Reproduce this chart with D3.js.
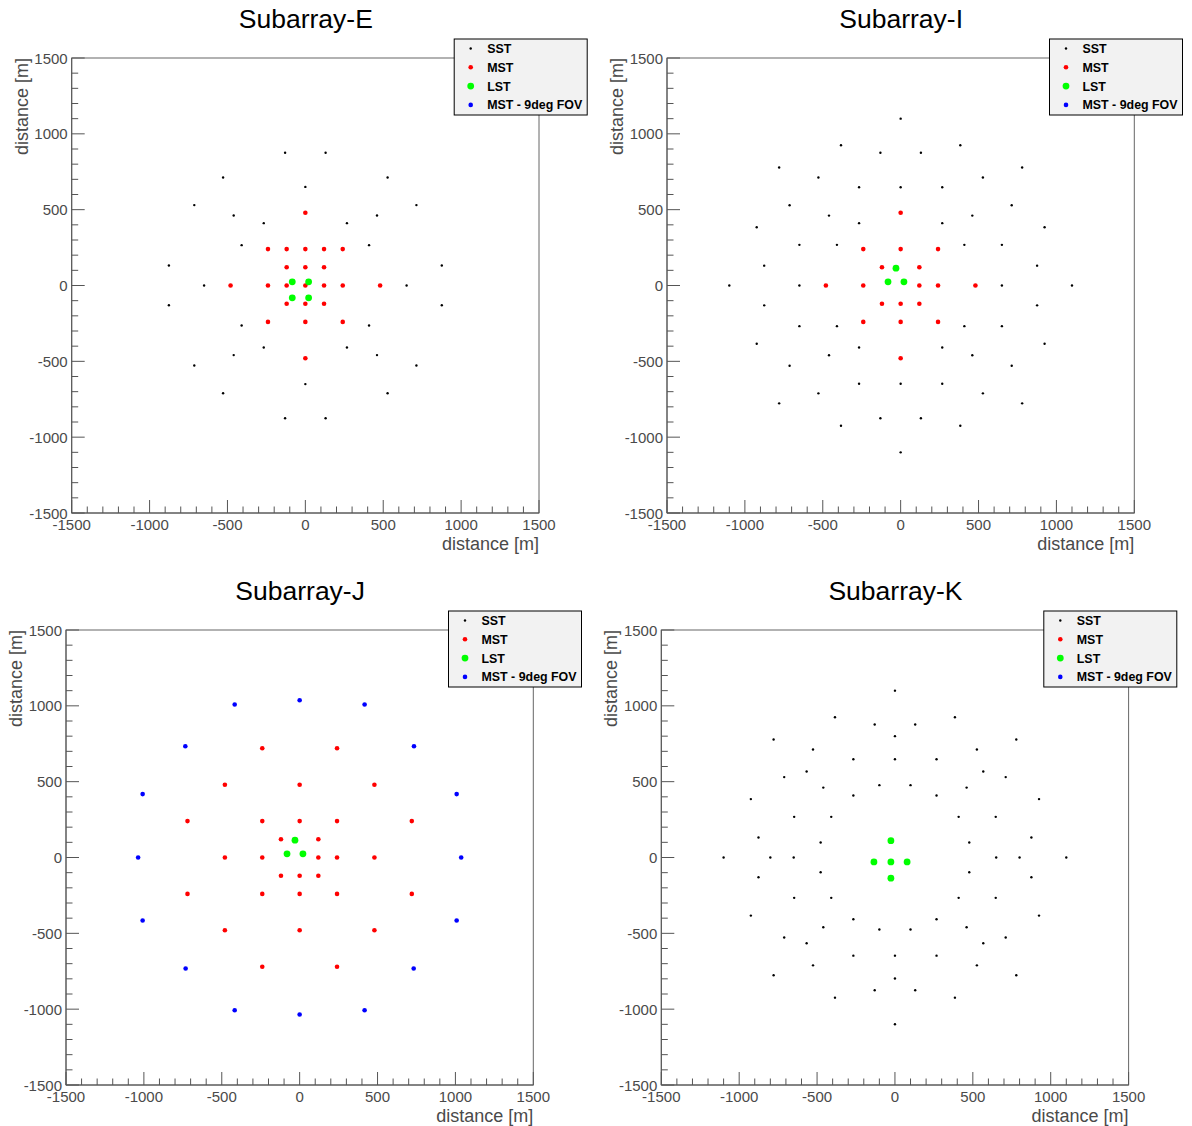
<!DOCTYPE html>
<html>
<head>
<meta charset="utf-8">
<script src="https://cdn.jsdelivr.net/npm/d3@7/dist/d3.min.js"></script>
<style>
  html, body { margin: 0; padding: 0; background: #fff; }
  svg { display: block; }
  text { font-family: "Liberation Sans", Arial, Helvetica, sans-serif; }
</style>
</head>
<body>
<div id="chart"></div>
<script>
// ---------------- DATA ----------------
const axisTicks = [-1500, -1000, -500, 0, 500, 1000, 1500];
const legendLabels = ["SST", "MST", "LST", "MST - 9deg FOV"];
const panelTitles = ["Subarray-E", "Subarray-I", "Subarray-J", "Subarray-K"];

const sstE = [
  [-130,875],[130,875],[-528,712],[528,712],[0,650],[-713,530],[713,530],
  [-460,462],[460,462],[-267,411],[267,411],[-409,266],[409,266],
  [-876,132],[876,132],[-650,0],[650,0],[-876,-130],[876,-130],
  [-409,-264],[409,-264],[-267,-409],[267,-409],[-460,-459],[460,-459],
  [-713,-527],[713,-527],[-528,-710],[528,-710],[0,-650],[-130,-875],[130,-875]
];
const mstE = [
  [0,480],
  [-240,240],[-120,240],[0,240],[120,240],[240,240],
  [-120,120],[0,120],[120,120],
  [-480,0],[-240,0],[-120,0],[0,0],[120,0],[240,0],[480,0],
  [-120,-120],[0,-120],[120,-120],
  [-240,-240],[0,-240],[240,-240],
  [0,-480]
];
const lstE = [[-84,24],[21,24],[-84,-81],[21,-81]];
const mst9E = [];

const sstI = [
  [0,1100],[-383,925],[383,925],[-130,875],[130,875],[-780,778],[780,778],
  [-528,712],[528,712],[-267,648],[0,648],[267,648],[-713,529],[713,529],
  [-460,461],[460,461],[-267,411],[267,411],[-924,384],[924,384],
  [-650,268],[-409,268],[409,268],[650,268],[-876,131],[876,131],
  [-1100,0],[-650,0],[650,0],[1100,0],[-876,-131],[876,-131],
  [-650,-268],[-409,-268],[409,-268],[650,-268],[-924,-384],[924,-384],
  [-267,-409],[267,-409],[-460,-460],[460,-460],[-713,-529],[713,-529],
  [-267,-648],[0,-648],[267,-648],[-528,-711],[528,-711],[-780,-777],[780,-777],
  [-130,-875],[130,-875],[-383,-925],[383,-925],[0,-1100]
];
const mstI = [
  [0,480],
  [-240,240],[0,240],[240,240],
  [-120,120],[120,120],
  [-480,0],[-240,0],[120,0],[240,0],[480,0],
  [-120,-120],[0,-120],[120,-120],
  [-240,-240],[0,-240],[240,-240],
  [0,-480]
];
const lstI = [[-30,114],[-81,24],[21,24]];
const mst9I = [];

const sstJ = [];
const mstJ = [
  [-240,720],[240,720],
  [-480,480],[0,480],[480,480],
  [-720,240],[-240,240],[0,240],[240,240],[720,240],
  [-120,120],[120,120],
  [-480,0],[-240,0],[120,0],[240,0],[480,0],
  [-120,-120],[0,-120],[120,-120],
  [-720,-240],[-240,-240],[0,-240],[240,-240],[720,-240],
  [-480,-480],[0,-480],[480,-480],
  [-240,-720],[240,-720]
];
const lstJ = [[-30,114],[-81,24],[21,24]];
const mst9J = [
  [0,1037],[-417,1009],[417,1009],[-734,734],[734,734],[-1008,418],[1008,418],
  [-1037,0],[1037,0],[-1008,-415],[1008,-415],[-732,-732],[732,-732],
  [-417,-1007],[417,-1007],[0,-1035]
];

const sstK = [
  [0,1100],[-385,925],[385,925],[-130,877],[130,877],[0,800],
  [-779,778],[779,778],[-526,712],[526,712],[-267,648],[0,648],[267,648],
  [-567,567],[567,567],[-711,530],[711,530],[-100,477],[100,477],
  [-460,461],[460,461],[-267,409],[267,409],[-925,385],[925,385],
  [-647,268],[-409,268],[409,268],[647,268],[-876,132],[876,132],
  [-477,99],[477,99],
  [-1100,0],[-800,0],[-650,0],[650,0],[800,0],[1100,0],
  [-477,-97],[477,-97],[-876,-130],[876,-130],
  [-647,-266],[-409,-266],[409,-266],[647,-266],[-925,-383],[925,-383],
  [-267,-407],[267,-407],[-460,-460],[460,-460],[-100,-475],[100,-475],
  [-711,-527],[711,-527],[-567,-565],[567,-565],
  [-267,-647],[0,-647],[267,-647],[-526,-711],[526,-711],
  [-779,-776],[779,-776],[0,-798],[-130,-875],[130,-875],
  [-385,-924],[385,-924],[0,-1099]
];
const mstK = [];
const lstK = [[-26,111],[-135,-29],[-26,-29],[78,-29],[-26,-136]];
const mst9K = [];

// ---------------- LAYOUT ----------------
const W = 1192, H = 1126;
const PW = 467.3, PH = 455;
const panels = [
  { title: panelTitles[0], left: 71.7, top: 58, sst: sstE, mst: mstE, lst: lstE, mst9: mst9E },
  { title: panelTitles[1], left: 667.0, top: 58, sst: sstI, mst: mstI, lst: lstI, mst9: mst9I },
  { title: panelTitles[2], left: 66.0, top: 630, sst: sstJ, mst: mstJ, lst: lstJ, mst9: mst9J },
  { title: panelTitles[3], left: 661.3, top: 630, sst: sstK, mst: mstK, lst: lstK, mst9: mst9K }
];

const styles = [
  { key: "sst", color: "#000000", r: 1.2 },
  { key: "mst", color: "#ff0000", r: 2.3 },
  { key: "lst", color: "#00ff00", r: 3.4 },
  { key: "mst9", color: "#0000ff", r: 2.3 }
];

const svg = d3.select("#chart").append("svg")
  .attr("width", W).attr("height", H)
  .attr("viewBox", `0 0 ${W} ${H}`);
svg.append("rect").attr("width", W).attr("height", H).attr("fill", "#fff");

const axisColor = "#555";
const labelColor = "#4a4a4a";

panels.forEach(p => {
  const g = svg.append("g").attr("transform", `translate(${p.left},${p.top})`);
  const x = d3.scaleLinear().domain([-1500, 1500]).range([0, PW]);
  const y = d3.scaleLinear().domain([-1500, 1500]).range([PH, 0]);

  // frame
  g.append("rect").attr("x", 0).attr("y", 0).attr("width", PW).attr("height", PH)
    .attr("fill", "none").attr("stroke", "#666").attr("stroke-width", 1);

  const minor = d3.range(-1500, 1501, 100);

  // x axis: ticks inside (upward)
  const xa = g.append("g").attr("transform", `translate(0,${PH})`);
  xa.append("line").attr("x1", 0).attr("x2", PW).attr("stroke", axisColor);
  xa.selectAll("line.tk").data(minor).join("line").attr("class", "tk")
    .attr("x1", d => x(d)).attr("x2", d => x(d))
    .attr("y1", 0).attr("y2", d => (d % 500 === 0 ? -13 : -6.5))
    .attr("stroke", axisColor);
  xa.selectAll("text").data(axisTicks).join("text")
    .attr("x", d => x(d)).attr("y", 17)
    .attr("text-anchor", "middle")
    .attr("font-size", 15).attr("fill", labelColor)
    .text(d => String(d));

  // y axis: ticks inside (rightward)
  const ya = g.append("g");
  ya.append("line").attr("y1", 0).attr("y2", PH).attr("stroke", axisColor);
  ya.selectAll("line.tk").data(minor).join("line").attr("class", "tk")
    .attr("y1", d => y(d)).attr("y2", d => y(d))
    .attr("x1", 0).attr("x2", d => (d % 500 === 0 ? 13 : 6.5))
    .attr("stroke", axisColor);
  ya.selectAll("text").data(axisTicks).join("text")
    .attr("x", -4).attr("y", d => y(d) + 5.5)
    .attr("text-anchor", "end")
    .attr("font-size", 15).attr("fill", labelColor)
    .text(d => String(d));

  // axis titles
  g.append("text").attr("x", PW).attr("y", PH + 37)
    .attr("text-anchor", "end").attr("font-size", 18).attr("fill", labelColor)
    .text("distance [m]");
  g.append("text")
    .attr("transform", `translate(-44,0) rotate(-90)`)
    .attr("text-anchor", "end").attr("font-size", 18).attr("fill", labelColor)
    .text("distance [m]");

  // title
  g.append("text").attr("x", PW / 2 + 0.5).attr("y", -30)
    .attr("text-anchor", "middle").attr("font-size", 26.5).attr("fill", "#000")
    .text(p.title);

  // points
  styles.forEach(s => {
    g.append("g").selectAll("circle").data(p[s.key]).join("circle")
      .attr("cx", d => x(d[0])).attr("cy", d => y(d[1]))
      .attr("r", s.r).attr("fill", s.color);
  });

  // legend
  const lg = g.append("g").attr("transform", `translate(382.5,-19)`);
  lg.append("rect").attr("x", 0).attr("y", 0).attr("width", 133).attr("height", 76)
    .attr("fill", "#f2f2f2").attr("stroke", "#000").attr("stroke-width", 1);
  legendLabels.forEach((lab, i) => {
    const cy = 9.5 + i * 18.8;
    lg.append("circle").attr("cx", 16.5).attr("cy", cy)
      .attr("r", styles[i].r).attr("fill", styles[i].color);
    lg.append("text").attr("x", 33).attr("y", cy + 4.4)
      .attr("font-size", 12.4).attr("font-weight", "bold").attr("fill", "#000")
      .text(lab);
  });
});
</script>
</body>
</html>
